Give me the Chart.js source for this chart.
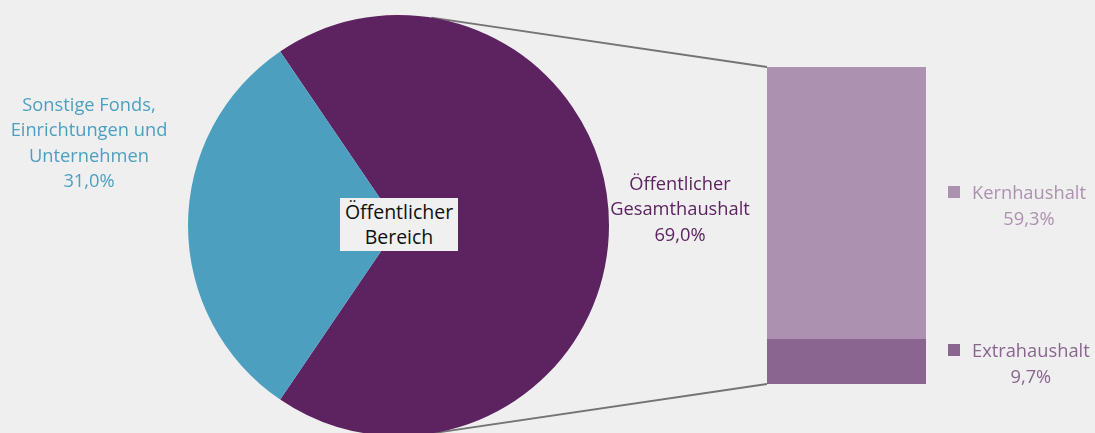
<!DOCTYPE html>
<html lang="de">
<head>
<meta charset="utf-8">
<script src="https://cdn.jsdelivr.net/npm/chart.js@4/dist/chart.umd.min.js"></script>
<style>
  html, body { margin: 0; padding: 0; }
  body {
    width: 1095px; height: 433px; overflow: hidden; position: relative;
    background: #eeefee; font-family: "Open Sans", "Noto Sans", sans-serif;
  }
  .box { position: absolute; }
  .lbl { position: absolute; text-align: center; font-size: 18.3px; line-height: 25.3px; }
  .legend { position: absolute; font-size: 18.3px; line-height: 26px; text-align: center; }
  .legend i { position: absolute; left: -24px; top: 7px; width: 12px; height: 12px; }
  #center-label {
    position: absolute; left: 340px; top: 198px; width: 118px; height: 53px;
    background: #eff0ef; color: #111; font-size: 19.5px; line-height: 25px;
    text-align: center; padding-top: 1px; box-sizing: border-box;
  }
</style>
</head>
<body>
<canvas id="links" width="1095" height="433" style="position:absolute;left:0;top:0"></canvas>
<div class="box" style="left:188px;top:15px;width:421px;height:421px"><canvas id="pie-chart"></canvas></div>
<div class="box" style="left:767px;top:67px;width:159px;height:317px"><canvas id="bar-chart"></canvas></div>

<div class="lbl" style="left:-11px;top:91px;width:200px;color:#4d9fc0">Sonstige Fonds,<br>Einrichtungen und<br>Unternehmen<br>31,0%</div>
<div class="lbl" style="left:580px;top:170px;width:200px;color:#5c2360">Öffentlicher<br>Gesamthaushalt<br>69,0%</div>
<div id="center-label">Öffentlicher<br>Bereich</div>
<div id="legend-kern" class="legend" style="left:972px;top:179px;color:#ad91b1"></div>
<div id="legend-extra" class="legend" style="left:972px;top:337px;color:#8a6590"></div>

<script>
// Pie: public sector split
const pieLabels = ['Öffentlicher Gesamthaushalt', 'Sonstige Fonds, Einrichtungen und Unternehmen'];
const pieValues = [69.0, 31.0];
const pieColors = ['#5c2360', '#4d9fc0'];

// Bar: breakdown of the Gesamthaushalt
const barLabels = ['Kernhaushalt', 'Extrahaushalt'];
const barValues = [59.3, 9.7];
const barColors = ['#ad91b1', '#8a6590'];

const fmt = v => v.toFixed(1).replace('.', ',') + '%';

// rotate so the smaller slice sits centred on the left side
const blueShare = pieValues[1] / (pieValues[0] + pieValues[1]);
const startAngle = 270 + blueShare * 180 - 360;

const pieChart = new Chart(document.getElementById('pie-chart'), {
    type: 'pie',
    data: {
        labels: pieLabels,
        datasets: [{
            data: pieValues,
            backgroundColor: pieColors,
            borderWidth: 0,
            hoverOffset: 0
        }]
    },
    options: {
        responsive: true,
        maintainAspectRatio: false,
        animation: false,
        rotation: startAngle,
        layout: { padding: 0 },
        plugins: { legend: { display: false }, tooltip: { enabled: false } }
    }
});

const barChart = new Chart(document.getElementById('bar-chart'), {
    type: 'bar',
    data: {
        labels: [''],
        datasets: [
            { label: barLabels[1], data: [barValues[1]], backgroundColor: barColors[1] },
            { label: barLabels[0], data: [barValues[0]], backgroundColor: barColors[0] }
        ]
    },
    options: {
        responsive: true,
        maintainAspectRatio: false,
        animation: false,
        datasets: { bar: { barPercentage: 1, categoryPercentage: 1, borderWidth: 0 } },
        layout: { padding: 0 },
        scales: {
            x: { stacked: true, display: false },
            y: { stacked: true, display: false, min: 0, max: barValues[0] + barValues[1] }
        },
        plugins: { legend: { display: false }, tooltip: { enabled: false } }
    }
});

// Legend entries on the right, value centred under the name
document.getElementById('legend-kern').innerHTML =
    `<i style="background:${barColors[0]}"></i>${barLabels[0]}<br>${fmt(barValues[0])}`;
document.getElementById('legend-extra').innerHTML =
    `<i style="background:${barColors[1]}"></i>${barLabels[1]}<br>${fmt(barValues[1])}`;

// Connector lines from the pie rim to the bar corners
function drawLinks() {
    const ctx = document.getElementById('links').getContext('2d');
    const pieBox = pieChart.canvas.parentNode;
    const barBox = barChart.canvas.parentNode;
    const arc = pieChart.getDatasetMeta(0).data[0];
    const cx = pieBox.offsetLeft + arc.x;
    const cy = pieBox.offsetTop + arc.y;
    const r = arc.outerRadius;
    const a = 9 * Math.PI / 180;

    const yScale = barChart.scales.y;
    const x0 = barBox.offsetLeft + barChart.chartArea.left;
    const yTop = barBox.offsetTop + yScale.getPixelForValue(barValues[0] + barValues[1]);
    const yBot = barBox.offsetTop + yScale.getPixelForValue(0);

    ctx.strokeStyle = '#747474';
    ctx.lineWidth = 1.8;
    ctx.beginPath();
    ctx.moveTo(cx + r * Math.sin(a), cy - r * Math.cos(a));
    ctx.lineTo(x0, yTop);
    ctx.moveTo(cx + r * Math.sin(a), cy + r * Math.cos(a));
    ctx.lineTo(x0, yBot);
    ctx.stroke();
}
drawLinks();
</script>
</body>
</html>
